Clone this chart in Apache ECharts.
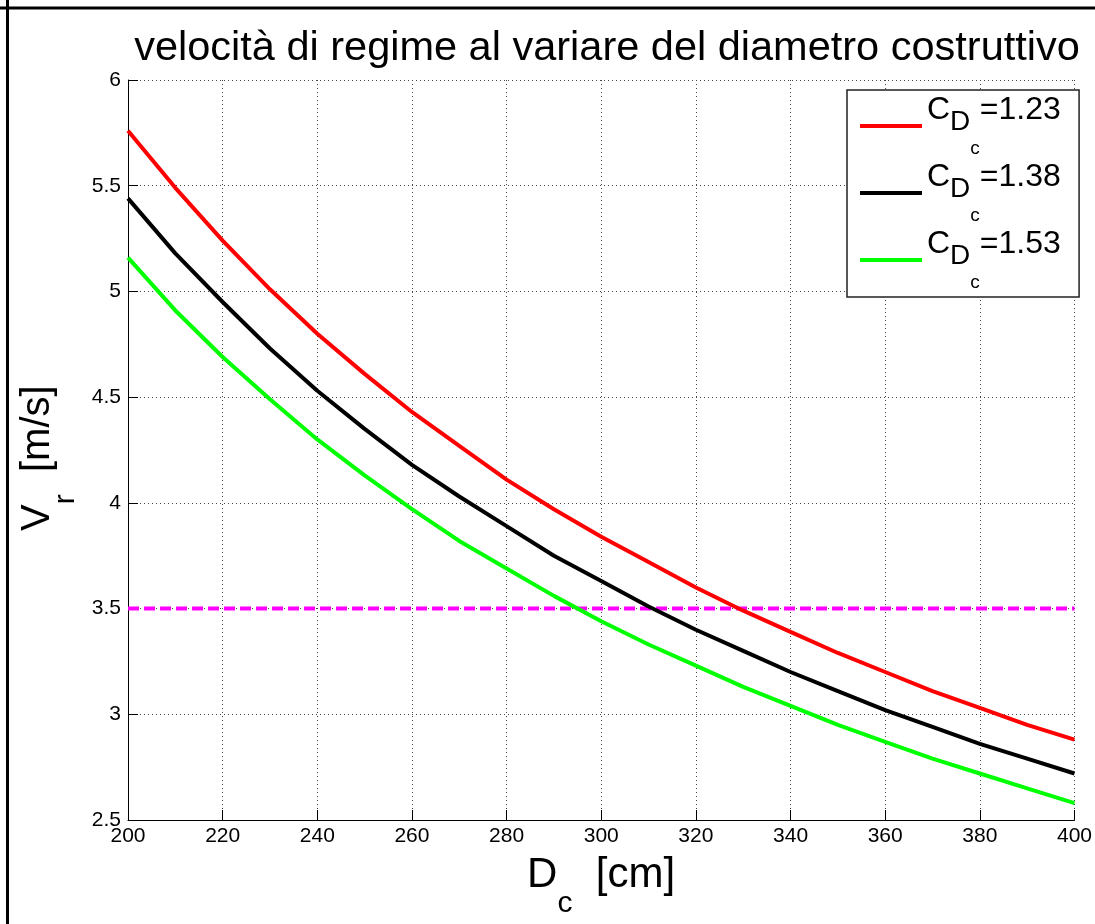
<!DOCTYPE html>
<html>
<head>
<meta charset="utf-8">
<script src="https://cdn.jsdelivr.net/npm/echarts@6/dist/echarts.min.js"></script>
<style>
  html, body { margin: 0; padding: 0; background: #fff; }
  #chart { width: 1095px; height: 924px; }
</style>
</head>
<body>
<div id="chart"></div>
<script>
// diametro costruttivo [cm]
var diametri = [200, 210, 220, 230, 240, 250, 260, 270, 280, 290, 300,
                310, 320, 330, 340, 350, 360, 370, 380, 390, 400];
// velocita di regime [m/s] per i tre coefficienti
var vCd123 = [5.76, 5.49, 5.24, 5.01, 4.80, 4.61, 4.43, 4.27, 4.11, 3.97, 3.84,
              3.72, 3.60, 3.49, 3.39, 3.29, 3.20, 3.11, 3.03, 2.95, 2.88];
var vCd138 = [5.44, 5.18, 4.95, 4.73, 4.53, 4.35, 4.18, 4.03, 3.89, 3.75, 3.63,
              3.51, 3.40, 3.30, 3.20, 3.11, 3.02, 2.94, 2.86, 2.79, 2.72];
var vCd153 = [5.16, 4.91, 4.69, 4.49, 4.30, 4.13, 3.97, 3.82, 3.69, 3.56, 3.44,
              3.33, 3.23, 3.13, 3.04, 2.95, 2.87, 2.79, 2.72, 2.65, 2.58];
var cdLabels = ['1.23', '1.38', '1.53'];
var sogliaX = [200, 400];
var sogliaV = [3.5, 3.5];

var FONT = 'Liberation Sans, Arial, Helvetica, sans-serif';

function coppie(xs, ys) {
    return xs.map(function(x, i) { return [x, ys[i]]; });
}

var myChart = echarts.init(document.getElementById('chart'));

var gridLine = { show: true, lineStyle: { color: '#444', width: 1, type: [1, 3] } };

function serie(name, ys, color) {
    return {
        name: name,
        type: 'line',
        data: coppie(diametri, ys),
        showSymbol: false,
        symbol: 'none',
        smooth: false,
        lineStyle: { color: color, width: 4 },
        itemStyle: { color: color },
        silent: true
    };
}

// pezzo di testo rich allineato in alto e spostato in basso di "giu" px
function pezzo(size, lh, giu) {
    return { fontFamily: FONT, fontSize: size, lineHeight: lh, verticalAlign: 'top', padding: [giu, 0, 0, 0] };
}
// token "spaziatore" che fissa l'altezza della riga
function spacer(h) {
    return { fontFamily: FONT, fontSize: 1, lineHeight: h, verticalAlign: 'middle' };
}

var option = {
    backgroundColor: '#fff',
    animation: false,
    title: {
        text: 'velocità di regime al variare del diametro costruttivo',
        left: 602,
        top: 23,
        textAlign: 'center',
        textStyle: { fontFamily: FONT, fontSize: 41.5, fontWeight: 'normal', color: '#000' }
    },
    grid: { left: 128, right: 18, top: 80, bottom: 97 },
    legend: {
        orient: 'vertical',
        left: 847,
        top: 90,
        padding: [4, 18, 5, 13],
        itemGap: 3,
        itemWidth: 62,
        itemHeight: 4,
        icon: 'rect',
        backgroundColor: '#fff',
        borderColor: '#222',
        borderWidth: 1.5,
        borderRadius: 0,
        data: cdLabels,
        formatter: function(name) {
            return '{C|C}{D|D}{c|c}{v|=' + name + '}{e| }';
        },
        textStyle: {
            fontFamily: FONT,
            color: '#000',
            rich: {
                C: pezzo(32, 46, 0),
                D: pezzo(28, 50, 14),
                c: pezzo(19, 19, 45),
                v: pezzo(32, 46, 0),
                e: spacer(64)
            }
        }
    },
    xAxis: {
        type: 'value',
        min: 200,
        max: 400,
        interval: 20,
        name: '{D|D}{c|c}{t|  [cm]}{e| }',
        nameLocation: 'middle',
        nameGap: 34,
        nameTextStyle: {
            fontFamily: FONT,
            color: '#000',
            rich: {
                D: pezzo(42, 42, 0),
                c: pezzo(30, 20, 35),
                t: pezzo(42, 42, 0),
                e: spacer(55)
            }
        },
        axisLine: { show: true, onZero: false, lineStyle: { color: '#000', width: 1 } },
        axisTick: { show: true, inside: true, length: 10, lineStyle: { color: '#000' } },
        axisLabel: { fontFamily: FONT, fontSize: 21, color: '#000', margin: 6 },
        splitLine: gridLine
    },
    yAxis: {
        type: 'value',
        min: 2.5,
        max: 6,
        interval: 0.5,
        name: '{V|V}{r|r}{t|  [m/s]}{e| }',
        nameLocation: 'middle',
        nameGap: 55,
        nameRotate: 90,
        nameTextStyle: {
            fontFamily: FONT,
            color: '#000',
            rich: {
                V: pezzo(40, 40, 0),
                r: pezzo(30, 20, 33),
                t: { fontFamily: FONT, fontSize: 40, lineHeight: 40, verticalAlign: 'top', padding: [0, 16, 0, 0] },
                e: spacer(54)
            }
        },
        axisLine: { show: true, onZero: false, lineStyle: { color: '#000', width: 1 } },
        axisTick: { show: true, inside: true, length: 10, lineStyle: { color: '#000' } },
        axisLabel: { fontFamily: FONT, fontSize: 21, color: '#000', margin: 7 },
        splitLine: gridLine
    },
    graphic: [
        // cornice della figura (solo lati alto e sinistro visibili)
        { type: 'line', shape: { x1: 0, y1: 8, x2: 1095, y2: 8 }, style: { stroke: '#000', lineWidth: 3 } },
        { type: 'line', shape: { x1: 7.5, y1: 0, x2: 7.5, y2: 924 }, style: { stroke: '#000', lineWidth: 3 } }
    ],
    series: [
        serie(cdLabels[0], vCd123, '#ff0000'),
        serie(cdLabels[1], vCd138, '#000000'),
        serie(cdLabels[2], vCd153, '#00ff00'),
        {
            name: 'soglia',
            type: 'line',
            data: coppie(sogliaX, sogliaV),
            showSymbol: false,
            symbol: 'none',
            lineStyle: { color: '#ff00ff', width: 4, type: [11, 5] },
            silent: true,
            z: 1
        }
    ]
};

myChart.setOption(option);
</script>
</body>
</html>
